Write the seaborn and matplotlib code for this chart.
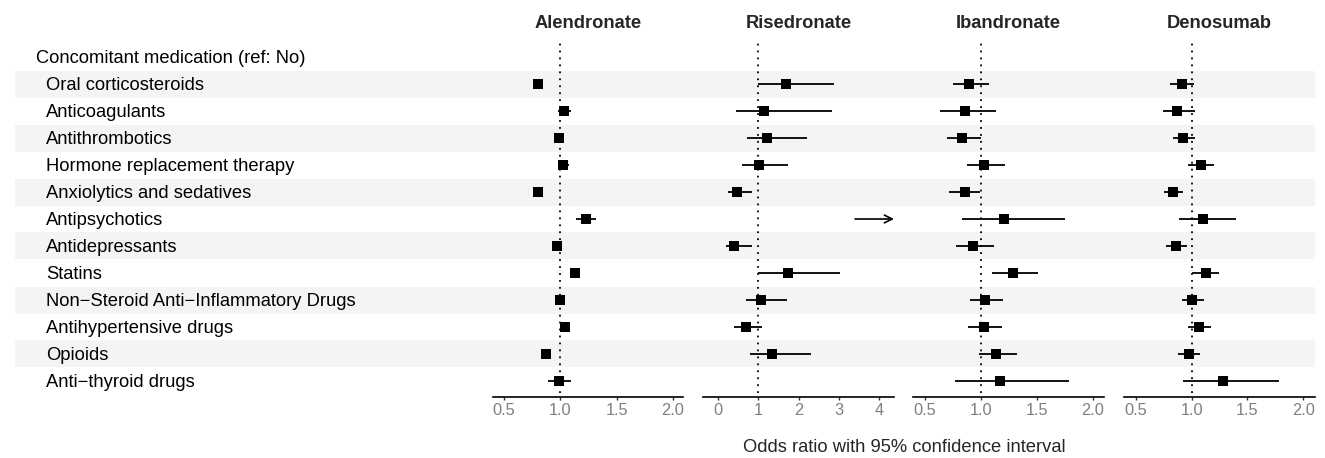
import numpy as np
import pandas as pd
import matplotlib
matplotlib.use("Agg")
import matplotlib.pyplot as plt
import seaborn as sns

# ---------------- data ----------------
header = "Concomitant medication (ref: No)"
categories = ["Oral corticosteroids", "Anticoagulants", "Antithrombotics",
              "Hormone replacement therapy", "Anxiolytics and sedatives",
              "Antipsychotics", "Antidepressants", "Statins",
              "Non\u2212Steroid Anti\u2212Inflammatory Drugs",
              "Antihypertensive drugs", "Opioids", "Anti\u2212thyroid drugs"]
drugs = ["Alendronate", "Risedronate", "Ibandronate", "Denosumab"]

alendronate_or = [0.80, 1.03, 0.99, 1.02, 0.80, 1.225, 0.97, 1.13, 0.995, 1.04, 0.87, 0.985]
alendronate_lo = [0.79, 0.975, 0.95, 0.98, 0.785, 1.135, 0.94, 1.09, 0.97, 1.00, 0.86, 0.89]
alendronate_hi = [0.81, 1.09, 1.035, 1.075, 0.83, 1.32, 1.01, 1.17, 1.02, 1.08, 0.88, 1.09]

risedronate_or = [1.70, 1.14, 1.23, 1.03, 0.49, np.nan, 0.41, 1.75, 1.08, 0.69, 1.35, np.nan]
risedronate_lo = [1.00, 0.445, 0.72, 0.61, 0.26, 3.40, 0.20, 1.00, 0.69, 0.41, 0.79, np.nan]
risedronate_hi = [2.885, 2.84, 2.20, 1.75, 0.84, np.inf, 0.84, 3.02, 1.71, 1.10, 2.30, np.nan]

ibandronate_or = [0.895, 0.855, 0.835, 1.03, 0.855, 1.21, 0.935, 1.29, 1.04, 1.03, 1.135, 1.17]
ibandronate_lo = [0.75, 0.64, 0.70, 0.88, 0.72, 0.83, 0.78, 1.10, 0.90, 0.89, 0.98, 0.77]
ibandronate_hi = [1.07, 1.14, 1.00, 1.22, 0.99, 1.75, 1.12, 1.51, 1.20, 1.19, 1.32, 1.79]

denosumab_or = [0.91, 0.87, 0.92, 1.08, 0.83, 1.10, 0.86, 1.13, 1.00, 1.065, 0.975, 1.285]
denosumab_lo = [0.805, 0.745, 0.835, 0.965, 0.75, 0.885, 0.775, 1.00, 0.915, 0.965, 0.88, 0.92]
denosumab_hi = [1.025, 1.03, 1.03, 1.20, 0.92, 1.40, 0.96, 1.245, 1.115, 1.17, 1.075, 1.78]

ticks = {"Alendronate": [0.5, 1.0, 1.5, 2.0], "Risedronate": [0, 1, 2, 3, 4],
         "Ibandronate": [0.5, 1.0, 1.5, 2.0], "Denosumab": [0.5, 1.0, 1.5, 2.0]}
ticklabels = {"Alendronate": ["0.5", "1.0", "1.5", "2.0"], "Risedronate": ["0", "1", "2", "3", "4"],
              "Ibandronate": ["0.5", "1.0", "1.5", "2.0"], "Denosumab": ["0.5", "1.0", "1.5", "2.0"]}
xlabel = "Odds ratio with 95% confidence interval"

series = {"Alendronate": (alendronate_or, alendronate_lo, alendronate_hi),
          "Risedronate": (risedronate_or, risedronate_lo, risedronate_hi),
          "Ibandronate": (ibandronate_or, ibandronate_lo, ibandronate_hi),
          "Denosumab": (denosumab_or, denosumab_lo, denosumab_hi)}

# ---------------- style ----------------
sns.set_theme(style="white")
plt.rcParams['font.family'] = ['Liberation Sans', 'DejaVu Sans']
FS = 13.2

W, H = 1325, 458
fig = plt.figure(figsize=(W / 100, H / 100), dpi=100)

row0_px, row_h = 57.0, 27.0
top_px, bot_px = 43.0, 397.0
def fy(px):
    return 1 - px / H

nrows = len(categories) + 1
ylim = ((bot_px - row0_px) / row_h, -(row0_px - top_px) / row_h)

# background axes for stripes and labels
bg = fig.add_axes([15 / W, fy(bot_px), (1315 - 15) / W, (bot_px - top_px) / H])
bg.set_xlim(15, 1315)
bg.set_ylim(*ylim)
bg.axis("off")
for i in range(1, nrows):
    if i % 2 == 1:
        bg.axhspan(i - 0.5, i + 0.5, color="#F3F4F4", lw=0, zorder=0)
dy = 0.06
bg.text(36, 0 + dy, header, fontsize=FS, va="center", ha="left", color="black")
for i, c in enumerate(categories):
    bg.text(46, i + 1 + dy, c, fontsize=FS, va="center", ha="left", color="black")

panels_px = {"Alendronate": (493, 683, (0.40, 2.09)),
             "Risedronate": (703, 894, (-0.364, 4.364)),
             "Ibandronate": (913, 1104, (0.395, 2.10)),
             "Denosumab": (1124, 1315, (0.395, 2.105))}

yrows = np.arange(1, nrows)
for d in drugs:
    x0, x1, xl = panels_px[d]
    ax = fig.add_axes([x0 / W, fy(bot_px), (x1 - x0) / W, (bot_px - top_px) / H])
    ax.patch.set_alpha(0)
    ax.set_xlim(*xl)
    ax.set_ylim(*ylim)
    est, lo, hi = (np.array(v, dtype=float) for v in series[d])
    ax.axvline(1, ymin=0.012, color="black", lw=1.3, linestyle=(0, (1, 2.85)), zorder=1)
    for y, l, h in zip(yrows, lo, hi):
        if np.isnan(l):
            continue
        lc, hc = max(l, xl[0]), min(h, xl[1])
        if h > xl[1]:
            ax.annotate("", xy=(xl[1], y), xytext=(lc, y),
                        arrowprops=dict(arrowstyle="->", color="black", lw=1.2,
                                        shrinkA=0, shrinkB=0, mutation_scale=14))
        else:
            ax.hlines(y, lc, hc, color="black", lw=1.3, zorder=2)
    df = pd.DataFrame({"or": est, "row": yrows}).dropna()
    sns.scatterplot(data=df, x="or", y="row", marker="s", s=48, color="black",
                    edgecolor="black", linewidth=0, ax=ax, zorder=3, legend=False)
    ax.set_ylim(*ylim)
    ax.set_xlim(*xl)
    for s in ["top", "left", "right"]:
        ax.spines[s].set_visible(False)
    ax.spines["bottom"].set_color("black")
    ax.spines["bottom"].set_linewidth(1.2)
    ax.set_yticks([])
    ax.set_xticks(ticks[d])
    ax.set_xticklabels(ticklabels[d])
    ax.tick_params(axis="x", bottom=True, direction="out", length=2.5, width=1.0,
                   color="#333333", pad=2, labelsize=11.8, labelcolor="#808080")
    ax.set_xlabel("")
    ax.set_ylabel("")
    ax.set_title(d, fontsize=FS, fontweight="bold", pad=10.5)

fig.text(904 / W, fy(447), xlabel, fontsize=FS, ha="center", va="center")

fig.savefig("out.png", dpi=100)
